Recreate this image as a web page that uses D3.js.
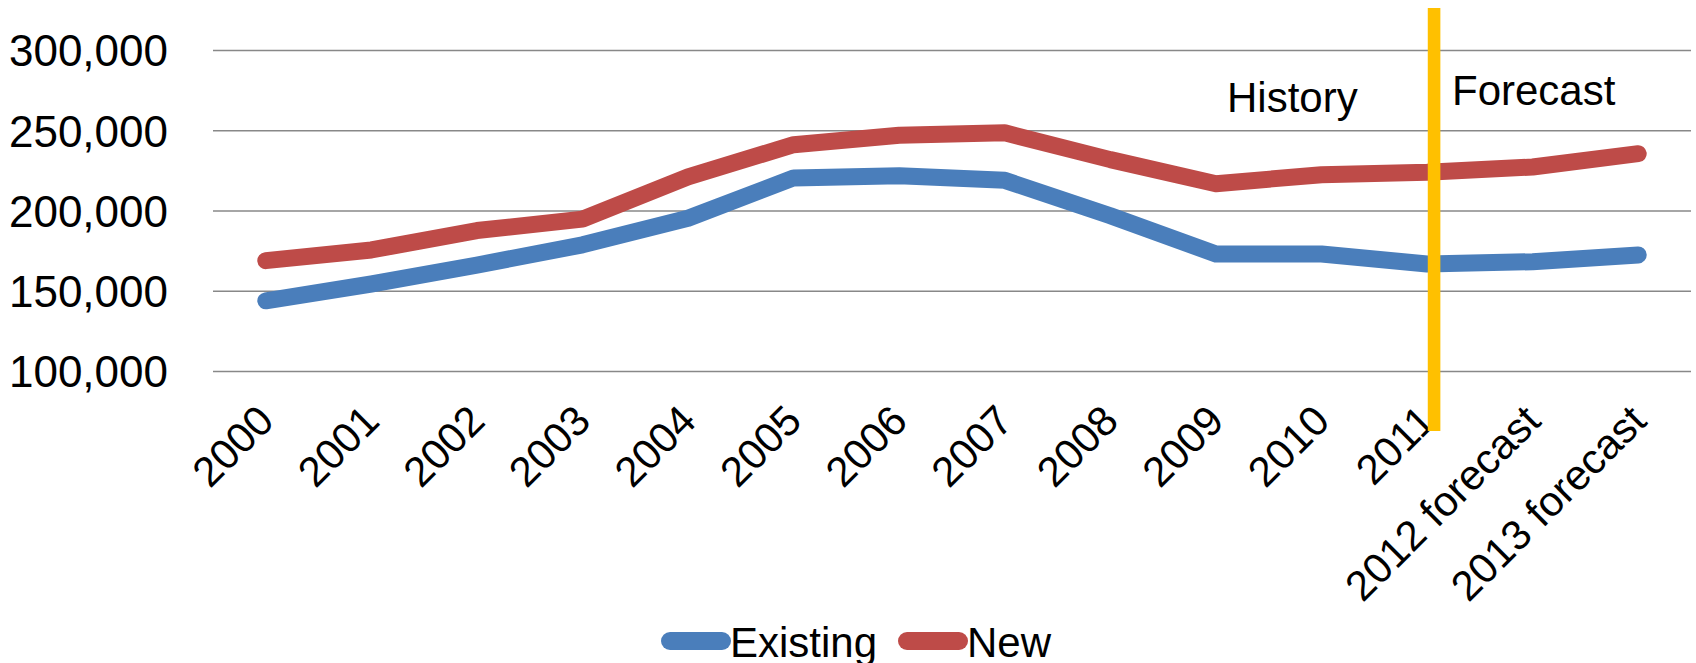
<!DOCTYPE html>
<html>
<head>
<meta charset="utf-8">
<script src="https://cdn.jsdelivr.net/npm/d3@7"></script>
<style>
  body { margin: 0; background: #fff; }
  svg { display: block; font-family: 'Liberation Sans', Arial, sans-serif; }
</style>
</head>
<body>
<svg id="canvas" width="1696" height="663"></svg>
<script>
const years = ['2000', '2001', '2002', '2003', '2004', '2005', '2006', '2007', '2008', '2009', '2010', '2011', '2012 forecast', '2013 forecast'];
const existing = [143750, 154200, 166000, 178600, 195200, 220300, 221700, 218800, 196700, 172900, 172900, 166700, 168100, 172300];
const newHomes = [168750, 175400, 187500, 194600, 221000, 241000, 246900, 248400, 231700, 216700, 222300, 223800, 227100, 235400];
const yTicks = [100000, 150000, 200000, 250000, 300000];
const seriesNames = ['Existing', 'New'];
const seriesColors = {
    'Existing': '#4A7EBB',
    'New': '#BE4B48'
};

let canvas = d3.select('#canvas');

const plotLeft = 213, plotRight = 1691, plotTop = 50, plotBottom = 371;

let xScale = d3.scalePoint().domain(years).range([plotLeft, plotRight]).padding(0.5);
let yScale = d3.scaleLinear().domain([100000, 300000]).range([plotBottom, plotTop]);

// gridlines + value labels
let yAxis = d3.axisLeft(yScale)
    .tickValues(yTicks)
    .tickSize(-(plotRight - plotLeft))
    .tickPadding(45)
    .tickFormat(d3.format(','));

let yg = canvas.append('g')
    .attr('transform', 'translate(' + plotLeft + ',0)')
    .call(yAxis);
yg.select('.domain').remove();
yg.selectAll('line').attr('stroke', '#888').attr('stroke-width', 1.5);
yg.selectAll('text')
    .attr('fill', '#000')
    .style('font-size', '44px')
    .attr('dy', '0.36em');

// category labels, rotated
let xAxis = d3.axisBottom(xScale).tickSize(0).tickPadding(0);
let xg = canvas.append('g')
    .attr('transform', 'translate(0,' + plotBottom + ')')
    .call(xAxis);
xg.select('.domain').remove();
xg.selectAll('.tick text')
    .attr('fill', '#000')
    .style('font-size', '42px')
    .attr('text-anchor', 'end')
    .attr('y', 0)
    .attr('dy', '0.36em')
    .attr('transform', 'translate(-1,41.5) rotate(-45)');

// series
let series = [
    { name: 'Existing', values: existing },
    { name: 'New', values: newHomes }
];

let line = d3.line()
    .x((d, i) => xScale(years[i]))
    .y(d => yScale(d));

canvas.selectAll('.series')
    .data(series)
    .enter()
    .append('path')
    .attr('class', 'series')
    .attr('d', d => line(d.values))
    .attr('fill', 'none')
    .attr('stroke', d => seriesColors[d.name])
    .attr('stroke-width', 17)
    .attr('stroke-linecap', 'round')
    .attr('stroke-linejoin', 'round');

// history / forecast divider
canvas.append('line')
    .attr('x1', xScale('2011') + 7)
    .attr('x2', xScale('2011') + 7)
    .attr('y1', 8)
    .attr('y2', 431)
    .attr('stroke', '#FFC000')
    .attr('stroke-width', 12.6);

canvas.append('text')
    .attr('x', 1227)
    .attr('y', 111.5)
    .style('font-size', '42px')
    .text('History');

canvas.append('text')
    .attr('x', 1452)
    .attr('y', 105)
    .style('font-size', '42px')
    .text('Forecast');

// legend
const legendX = [661, 898];
let legend = canvas.selectAll('.legend-item')
    .data(seriesNames)
    .enter()
    .append('g')
    .attr('class', 'legend-item')
    .attr('transform', (d, i) => 'translate(' + legendX[i] + ',641)');

legend.append('line')
    .attr('x1', 9)
    .attr('x2', 61)
    .attr('y1', 0)
    .attr('y2', 0)
    .attr('stroke', d => seriesColors[d])
    .attr('stroke-width', 18)
    .attr('stroke-linecap', 'round');

legend.append('text')
    .attr('x', 69)
    .attr('y', 15.5)
    .style('font-size', '42px')
    .text(d => d);
</script>
</body>
</html>
